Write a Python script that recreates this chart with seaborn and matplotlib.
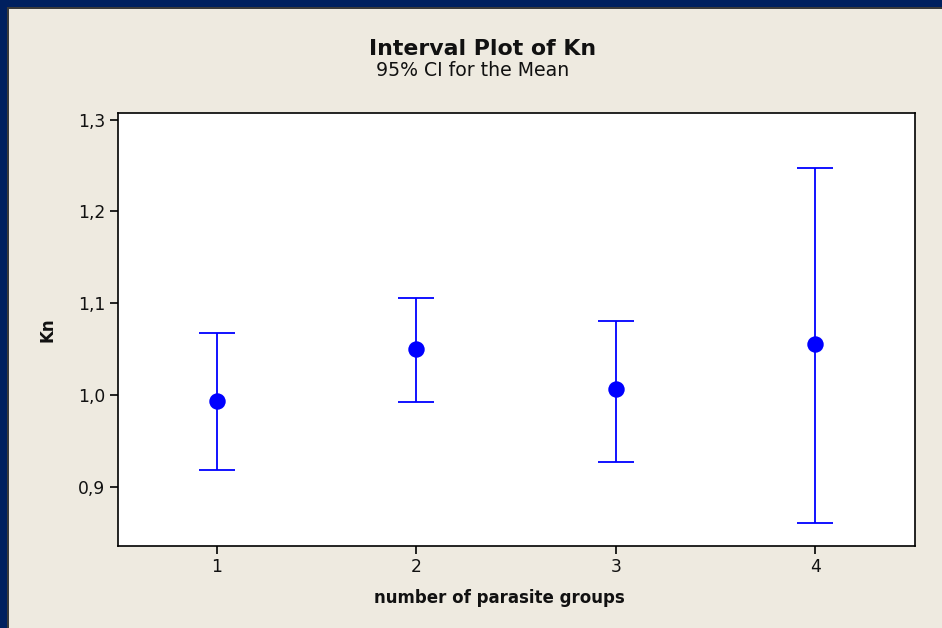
import matplotlib
matplotlib.use("Agg")
import matplotlib.pyplot as plt
import seaborn as sns
import pandas as pd
from matplotlib.patches import Rectangle

# ---- data ----
groups = [1, 2, 3, 4]
means = [0.993, 1.050, 1.006, 1.055]
ci_low = [0.918, 0.992, 0.927, 0.860]
ci_high = [1.067, 1.106, 1.081, 1.247]
y_ticks = [0.9, 1.0, 1.1, 1.2, 1.3]
y_tick_labels = ["0,9", "1,0", "1,1", "1,2", "1,3"]
x_tick_labels = ["1", "2", "3", "4"]

df = pd.DataFrame({"group": groups, "mean": means, "low": ci_low, "high": ci_high})

sns.set_theme(style="white")
plt.rcParams["font.family"] = ["DejaVu Sans"]

W, H = 942, 628
fig = plt.figure(figsize=(W / 100, H / 100), dpi=100)
bg = "#EEEAE0"
navy = "#00205F"
fig.patch.set_facecolor(bg)

# navy frame on top and left, thin dark line inside
fig.patches.append(Rectangle((0, 1 - 7 / H), 1, 7 / H, transform=fig.transFigure,
                             facecolor=navy, edgecolor="none", zorder=0))
fig.patches.append(Rectangle((0, 0), 7 / W, 1, transform=fig.transFigure,
                             facecolor=navy, edgecolor="none", zorder=0))
fig.patches.append(Rectangle((7 / W, 1 - 8.5 / H), 1, 1.5 / H, transform=fig.transFigure,
                             facecolor="#3a3a3a", edgecolor="none", zorder=0))
fig.patches.append(Rectangle((7 / W, 0), 1.5 / W, 1 - 7 / H, transform=fig.transFigure,
                             facecolor="#3a3a3a", edgecolor="none", zorder=0))

ax = fig.add_axes([118 / W, 1 - 545.5 / H, (914.5 - 118) / W, (545.5 - 113) / H])
ax.set_facecolor("white")

blue = "#0000FF"
ax.errorbar(df["group"], df["mean"],
            yerr=[df["mean"] - df["low"], df["high"] - df["mean"]],
            fmt="none", ecolor=blue, elinewidth=1.3, capsize=13.3, capthick=1.3, zorder=2)
sns.scatterplot(data=df, x="group", y="mean", ax=ax, color=blue, s=140,
                edgecolor=blue, linewidth=0, zorder=3, legend=False)

ax.set_xlim(0.505, 4.498)
ax.set_ylim(0.836, 1.3072)
ax.set_xticks(groups)
ax.set_xticklabels(x_tick_labels)
ax.set_yticks(y_ticks)
ax.set_yticklabels(y_tick_labels)

for s in ax.spines.values():
    s.set_visible(True)
    s.set_color("black")
    s.set_linewidth(1.2)

ax.tick_params(axis="both", which="major", direction="out", length=6, width=1.2,
               colors="black", labelsize=12.3, pad=3, bottom=True, left=True)
for lab in ax.get_xticklabels() + ax.get_yticklabels():
    lab.set_color("#111111")

ax.set_xlabel("number of parasite groups", fontsize=12, fontweight="bold", color="#111111")
ax.xaxis.set_label_coords((499 - 118) / (914.5 - 118), (545.5 - 598) / (545.5 - 113))
ax.xaxis.label.set_va("center")
ax.set_ylabel("Kn", fontsize=12, fontweight="bold", color="#111111")
ax.yaxis.set_label_coords((47 - 118) / (914.5 - 118), 0.5)
ax.yaxis.label.set_va("center")

fig.text(483 / W, 1 - 49 / H, "Interval Plot of Kn", ha="center", va="center",
         fontsize=15.8, fontweight="bold", color="#111111")
fig.text(473 / W, 1 - 71 / H, "95% CI for the Mean", ha="center", va="center",
         fontsize=13.6, color="#111111")

fig.savefig("out.png", dpi=100, facecolor=bg)
